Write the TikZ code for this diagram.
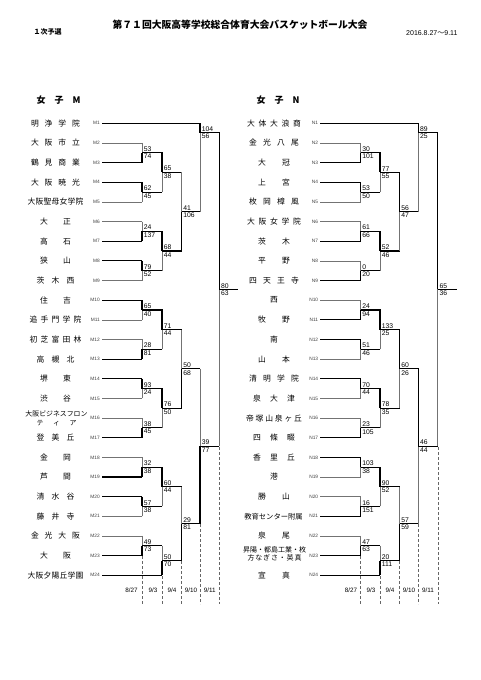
\documentclass[tikz,border=0pt]{standalone}
\usepackage{fontspec}
\setmainfont{Liberation Sans}
\newfontfamily\jp{Noto Sans CJK JP}
\usepackage{tikz}
\usetikzlibrary{calc}

\makeatletter
\def\spreadit#1{\spread@#1\@nil}
\def\spread@#1#2\@nil{#1\ifx\relax#2\relax\else\hfill\spread@#2\@nil\fi}
\makeatother

\newcommand{\bout}[8][.5]{%
  \path (#2) -- (#3) coordinate[pos=#1] (#4-m);
  \path (#5,0) coordinate (#4-x);
  \coordinate (#4) at (#4-x |- #4-m);
  \ifx t#8
    \draw[win] (#2) -| (#4);
    \draw[win] (#3) -- (#3 -| #4);
    \draw[lose] (#3 -| #4) -- (#4);
  \else
    \draw[win] (#3) -| (#4);
    \draw[win] (#2) -- (#2 -| #4);
    \draw[lose] (#2 -| #4) -- (#4);
  \fi
  \node[score, anchor=south west] (#4-t) at (#4) {#6};
  \node[score, anchor=north west] (#4-b) at (#4) {#7};
}

\tikzset{
  win/.style={line width=1.1pt},
  lose/.style={line width=.5pt, black!55},
  score/.style={font=\fontsize{6.8}{7}\selectfont, inner sep=1.2pt, xshift=.4pt},
  team/.style={font=\jp\fontsize{7.8}{8.5}\selectfont, inner sep=0pt},
  seed/.style={font=\fontsize{4.8}{5}\selectfont, inner sep=0pt, anchor=east, black!75},
  datel/.style={densely dashed, line width=.4pt, black!60},
  dlab/.style={font=\fontsize{6.3}{7}\selectfont, inner sep=0pt},
}

\begin{document}
\begin{tikzpicture}[x=1pt,y=-1pt]
\fill[white] (0,0) rectangle (481,680);
\useasboundingbox (0,0) rectangle (481,680);

\node[font=\jp\bfseries\fontsize{9.8}{11}\selectfont] (title) at (240,25) {第７１回大阪高等学校総合体育大会バスケットボール大会};
\node[font=\jp\bfseries\fontsize{7}{8}\selectfont, anchor=west] (stage) at (30,32) {１次予選};
\node[font=\fontsize{7}{8}\selectfont, anchor=east] (period) at (461,33) {2016.8.27{\jp ～}9.11};
\node[font=\jp\bfseries\fontsize{9}{10}\selectfont, anchor=west] (headM) at (33,100) {女\quad 子\quad M};
\node[font=\jp\bfseries\fontsize{9}{10}\selectfont, anchor=west] (headN) at (253,100) {女\quad 子\quad N};

\foreach \i/\bw/\nm in {1/49/明浄学院,2/49/大阪市立,3/49/鶴見商業,4/49/大阪暁光,5/56/大阪聖母女学院,
  6/31/大正,7/31/高石,8/31/狭山,9/38/茨木西,10/31/住吉,11/52/追手門学院,12/52/初芝富田林,
  13/38/高槻北,14/31/堺東,15/31/渋谷,17/38/登美丘,18/31/金岡,19/31/芦間,20/38/清水谷,
  21/38/藤井寺,22/49/金光大阪,23/31/大阪,24/56/大阪夕陽丘学園}
  \node[team] (mt\i) at (55.5,{123.3+(\i-1)*19.65}) {\makebox[\bw pt]{\expandafter\spreadit\expandafter{\nm}}};
\node[team, align=center, font=\jp\fontsize{6.9}{8.3}\selectfont] (mt16) at (56.5,418.5)
  {大阪ビジネスフロン\\\makebox[40pt]{テ\hfill ィ\hfill ア}};

\foreach \i/\bw/\nm in {1/54/大体大浪商,2/50/金光八尾,3/32/大冠,4/32/上宮,5/50/枚岡樟風,6/54/大阪女学院,
  7/32/茨木,8/32/平野,9/50/四天王寺,10/8/西,11/32/牧野,12/8/南,13/32/山本,14/50/清明学院,
  15/42/泉大津,16/56/帝塚山泉ヶ丘,17/42/四條畷,18/42/香里丘,19/8/港,20/32/勝山,22/32/泉尾,24/32/宣真}
  \node[team] (nt\i) at (274,{123.3+(\i-1)*19.65}) {\makebox[\bw pt]{\expandafter\spreadit\expandafter{\nm}}};
\node[team, font=\jp\fontsize{7.3}{8}\selectfont] (nt21) at (273.5,516.3) {教育センター附属};
\node[team, align=center, font=\jp\fontsize{7}{8}\selectfont] (nt23) at (274.5,553.5)
  {昇陽・都島工業・枚\\\makebox[54pt]{\spreadit{方なぎさ・英真}}};

\foreach \i/\xe/\s in {1/200/win,2/142/lose,3/142/win,4/142/win,5/142/lose,6/142/lose,7/142/win,8/142/win,
  9/142/lose,10/142/win,11/142/lose,12/142/lose,13/142/win,14/142/win,15/142/lose,16/142/lose,
  17/142/win,18/142/lose,19/142/win,20/142/win,21/142/lose,22/142/lose,23/142/win,24/162/win}
{
  \node[seed] (ml\i) at (100,{123.3+(\i-1)*19.65}) {M\i};
  \coordinate (m\i) at (\xe,{123.3+(\i-1)*19.65});
  \draw[\s, shorten <=2pt] (ml\i.east) -- (m\i);
}
\foreach \i/\xe/\s in {1/418.3/win,2/360.5/lose,3/360.5/win,4/360.5/win,5/360.5/lose,6/360.5/lose,
  7/360.5/win,8/360.5/lose,9/360.5/win,10/360.5/lose,11/360.5/win,12/360.5/win,13/360.5/lose,
  14/360.5/win,15/360.5/lose,16/360.5/lose,17/360.5/win,18/360.5/win,19/360.5/lose,20/360.5/lose,
  21/360.5/win,22/360.5/lose,23/360.5/win,24/380/win}
{
  \node[seed] (nl\i) at (318.3,{123.3+(\i-1)*19.65}) {N\i};
  \coordinate (n\i) at (\xe,{123.3+(\i-1)*19.65});
  \draw[\s, shorten <=2pt] (nl\i.east) -- (n\i);
}

\bout{m2}{m3}{ma1}{142}{53}{74}{b}
\bout{m4}{m5}{ma2}{142}{62}{45}{t}
\bout{m6}{m7}{ma3}{142}{24}{137}{b}
\bout{m8}{m9}{ma4}{142}{79}{52}{t}
\bout{m10}{m11}{ma5}{142}{65}{40}{t}
\bout{m12}{m13}{ma6}{142}{28}{81}{b}
\bout{m14}{m15}{ma7}{142}{93}{24}{t}
\bout{m16}{m17}{ma8}{142}{38}{45}{b}
\bout{m18}{m19}{ma9}{142}{32}{38}{b}
\bout{m20}{m21}{ma10}{142}{57}{38}{t}
\bout{m22}{m23}{ma11}{142}{49}{73}{b}
\bout{ma1}{ma2}{mb1}{162}{65}{38}{t}
\bout{ma3}{ma4}{mb2}{162}{68}{44}{t}
\bout{ma5}{ma6}{mb3}{162}{71}{44}{t}
\bout{ma7}{ma8}{mb4}{162}{76}{50}{t}
\bout{ma9}{ma10}{mb5}{162}{60}{44}{t}
\bout{ma11}{m24}{mb6}{162}{50}{70}{b}
\bout{mb1}{mb2}{mc1}{181.5}{41}{106}{b}
\bout{mb3}{mb4}{mc2}{181.5}{50}{68}{b}
\bout{mb5}{mb6}{mc3}{181.5}{29}{81}{b}
\bout[.106]{m1}{mc1}{md1}{200}{104}{56}{t}
\bout{mc2}{mc3}{md2}{200}{39}{77}{b}
\bout{md1}{md2}{me}{219.3}{80}{63}{t}
\path (238,0) coordinate (mfin-x);
\draw[win] (me) -- (me -| mfin-x);

\bout{n2}{n3}{na1}{360.5}{30}{101}{b}
\bout{n4}{n5}{na2}{360.5}{53}{50}{t}
\bout{n6}{n7}{na3}{360.5}{61}{66}{b}
\bout{n8}{n9}{na4}{360.5}{0}{20}{b}
\bout{n10}{n11}{na5}{360.5}{24}{94}{b}
\bout{n12}{n13}{na6}{360.5}{51}{46}{t}
\bout{n14}{n15}{na7}{360.5}{70}{44}{t}
\bout{n16}{n17}{na8}{360.5}{23}{105}{b}
\bout{n18}{n19}{na9}{360.5}{103}{38}{t}
\bout{n20}{n21}{na10}{360.5}{16}{151}{b}
\bout{n22}{n23}{na11}{360.5}{47}{63}{b}
\bout{na1}{na2}{nb1}{380}{77}{55}{t}
\bout{na3}{na4}{nb2}{380}{52}{46}{t}
\bout{na5}{na6}{nb3}{380}{133}{25}{t}
\bout{na7}{na8}{nb4}{380}{78}{35}{t}
\bout{na9}{na10}{nb5}{380}{90}{52}{t}
\bout{na11}{n24}{nb6}{380}{20}{111}{b}
\bout{nb1}{nb2}{nc1}{399.5}{56}{47}{t}
\bout{nb3}{nb4}{nc2}{399.5}{60}{26}{t}
\bout{nb5}{nb6}{nc3}{399.5}{57}{59}{b}
\bout[.106]{n1}{nc1}{nd1}{418.3}{89}{25}{t}
\bout{nc2}{nc3}{nd2}{418.3}{46}{44}{t}
\bout{nd1}{nd2}{ne}{437.7}{65}{36}{t}
\path (456.7,0) coordinate (nfin-x);
\draw[win] (ne) -- (ne -| nfin-x);

\foreach \x/\y in {142/556,162/576,181.5/561,200/524,219.3/447,360.5/556,380/576,399.5/561,418.3/524,437.7/447}
  \draw[datel] (\x,\y) -- (\x,604);
\foreach \x/\d [count=\k] in {131.5/{8/27},153/{9/3},172/{9/4},191/{9/10},209.7/{9/11}}
  \node[dlab] (mdate\k) at (\x,590) {\d};
\foreach \x/\d [count=\k] in {351/{8/27},371/{9/3},390/{9/4},409/{9/10},428/{9/11}}
  \node[dlab] (ndate\k) at (\x,590) {\d};
\end{tikzpicture}
\end{document}
